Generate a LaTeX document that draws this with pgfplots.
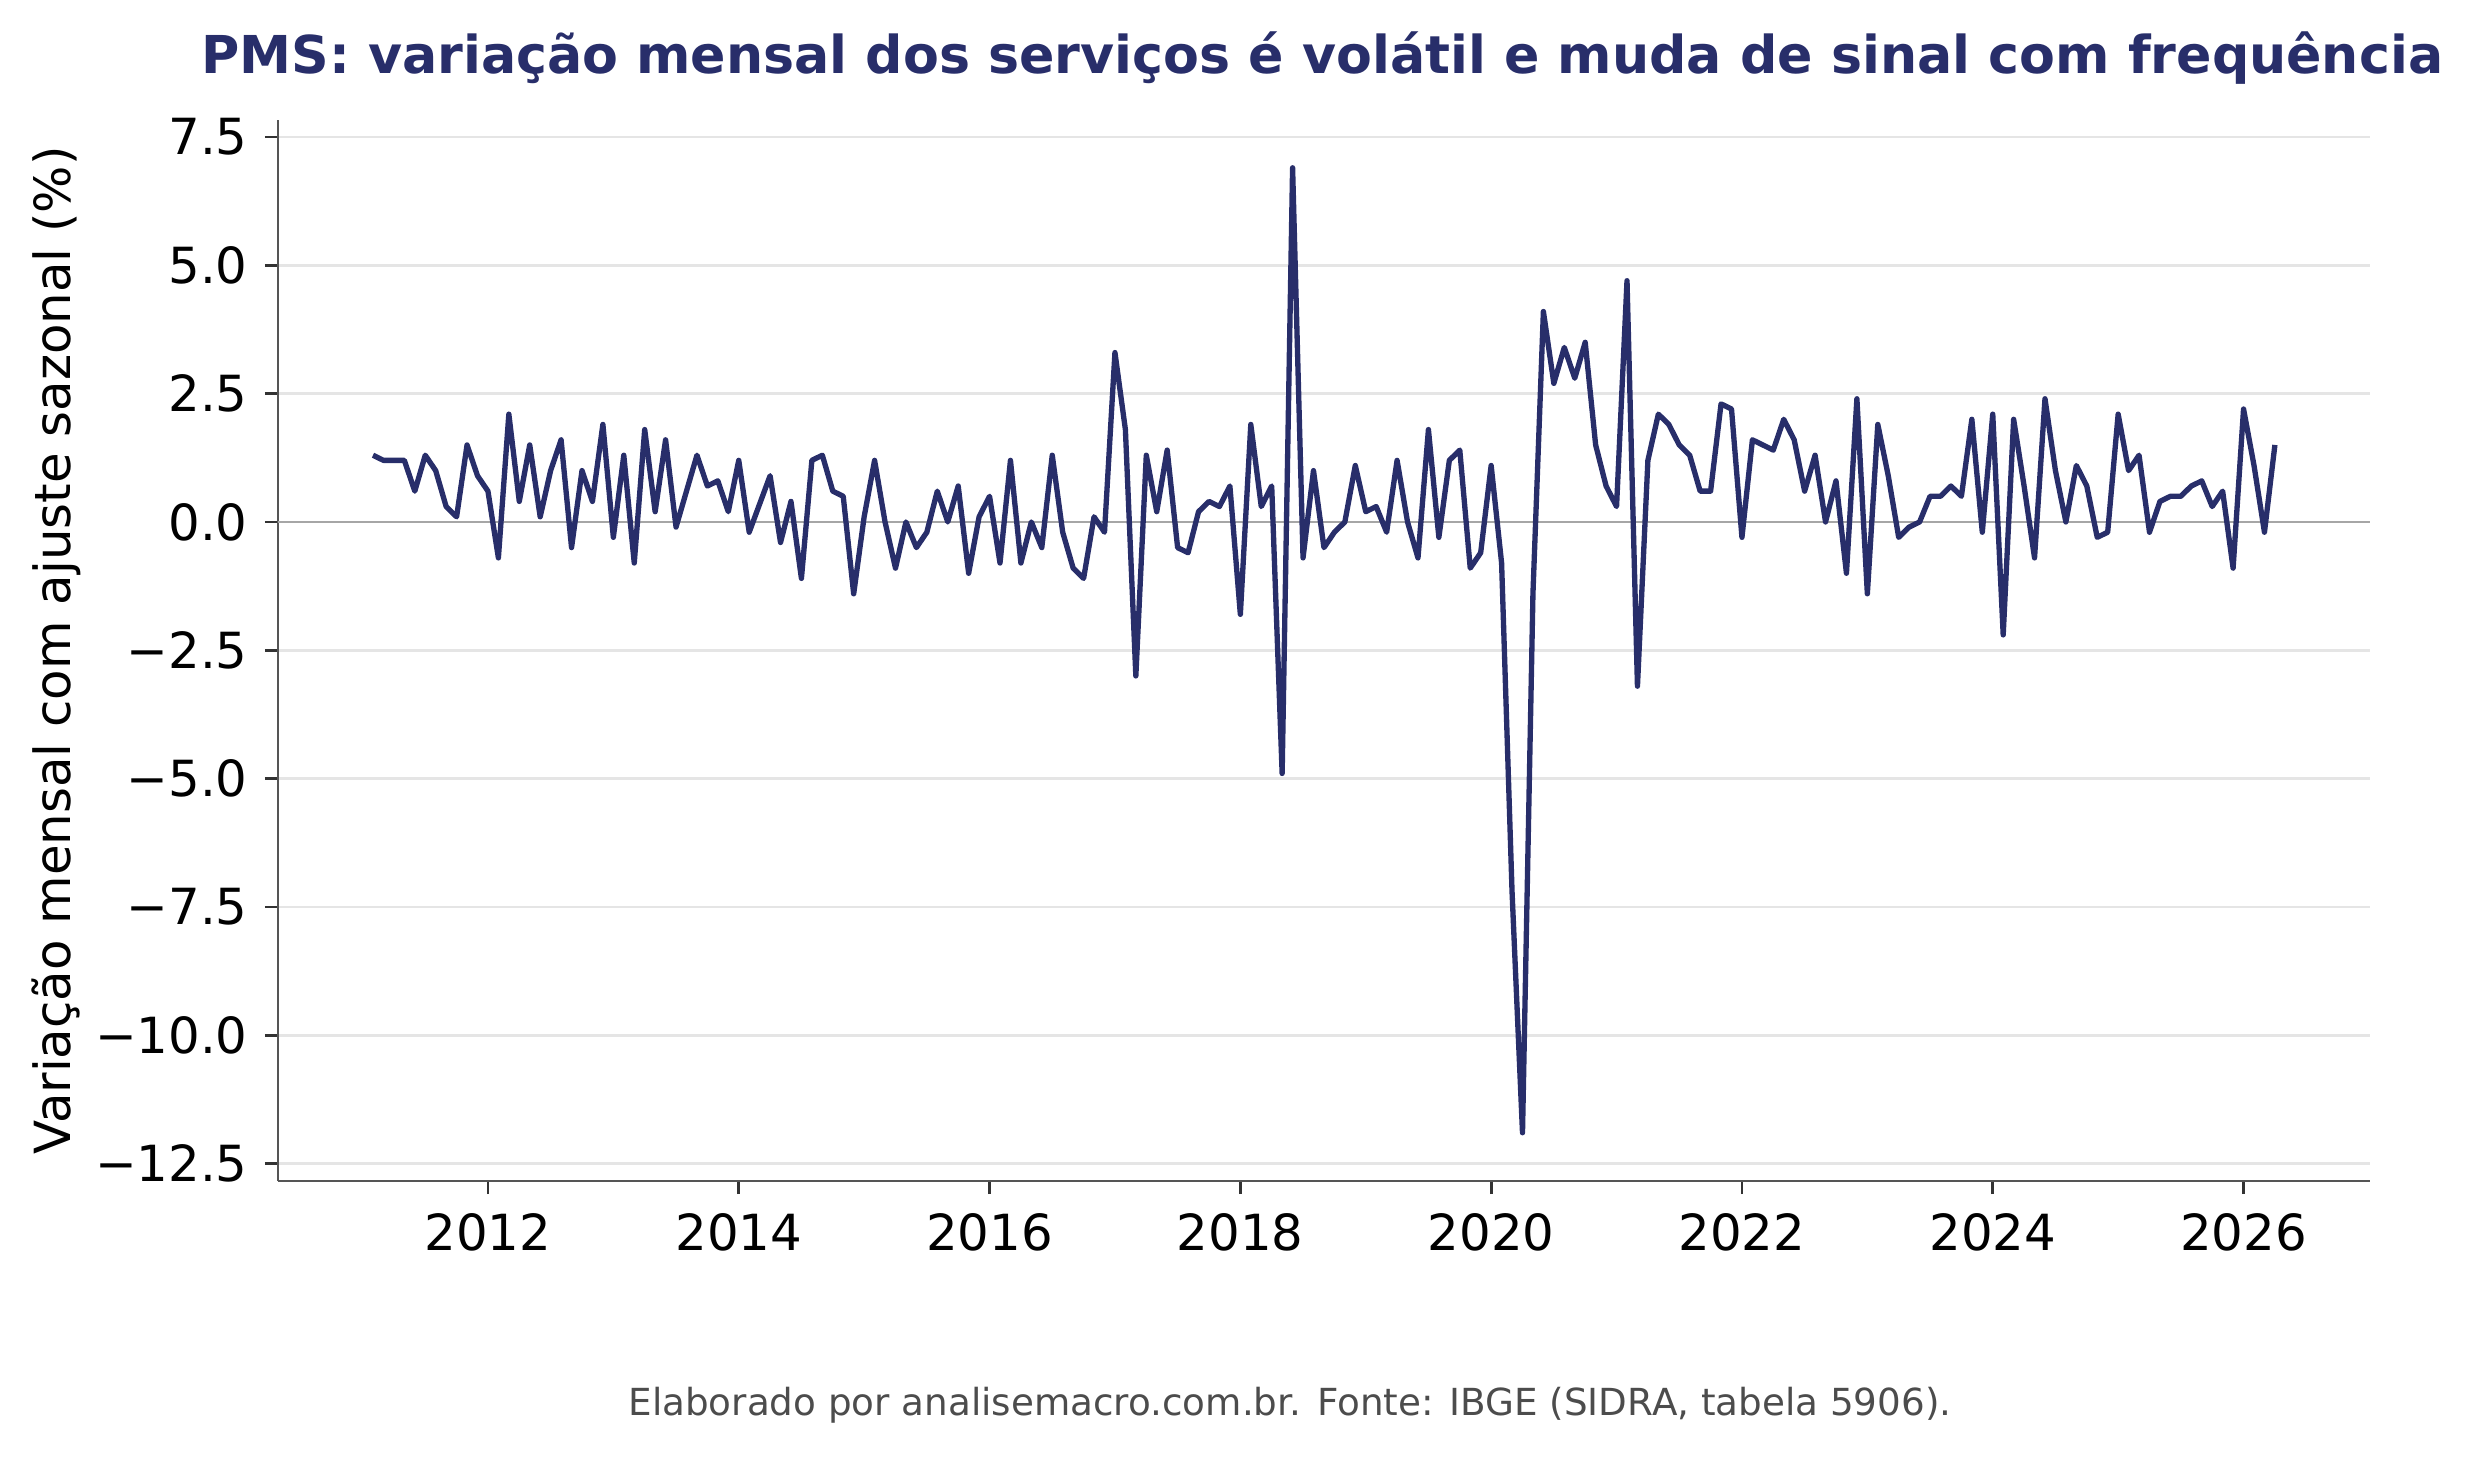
\documentclass[border=0pt]{standalone}
\usepackage{pgfplots}
\usepackage{pgfplotstable}
\pgfplotsset{compat=1.18}
\usepackage{fontspec}
\setmainfont{DejaVu Sans}
\definecolor{navy}{RGB}{40,46,106}
\definecolor{spine}{RGB}{85,85,85}

\pgfplotstableread{
y m v
2011 2 1.3
2011 3 1.2
2011 4 1.2
2011 5 1.2
2011 6 0.6
2011 7 1.3
2011 8 1.0
2011 9 0.3
2011 10 0.1
2011 11 1.5
2011 12 0.9
2012 1 0.6
2012 2 -0.7
2012 3 2.1
2012 4 0.4
2012 5 1.5
2012 6 0.1
2012 7 1.0
2012 8 1.6
2012 9 -0.5
2012 10 1.0
2012 11 0.4
2012 12 1.9
2013 1 -0.3
2013 2 1.3
2013 3 -0.8
2013 4 1.8
2013 5 0.2
2013 6 1.6
2013 7 -0.1
2013 8 0.6
2013 9 1.3
2013 10 0.7
2013 11 0.8
2013 12 0.2
2014 1 1.2
2014 2 -0.2
2014 3 0.35
2014 4 0.9
2014 5 -0.4
2014 6 0.4
2014 7 -1.1
2014 8 1.2
2014 9 1.3
2014 10 0.6
2014 11 0.5
2014 12 -1.4
2015 1 0.1
2015 2 1.2
2015 3 0.0
2015 4 -0.9
2015 5 0.0
2015 6 -0.5
2015 7 -0.2
2015 8 0.6
2015 9 0.0
2015 10 0.7
2015 11 -1.0
2015 12 0.1
2016 1 0.5
2016 2 -0.8
2016 3 1.2
2016 4 -0.8
2016 5 0.0
2016 6 -0.5
2016 7 1.3
2016 8 -0.2
2016 9 -0.9
2016 10 -1.1
2016 11 0.1
2016 12 -0.2
2017 1 3.3
2017 2 1.8
2017 3 -3.0
2017 4 1.3
2017 5 0.2
2017 6 1.4
2017 7 -0.5
2017 8 -0.6
2017 9 0.2
2017 10 0.4
2017 11 0.3
2017 12 0.7
2018 1 -1.8
2018 2 1.9
2018 3 0.3
2018 4 0.7
2018 5 -4.9
2018 6 6.9
2018 7 -0.7
2018 8 1.0
2018 9 -0.5
2018 10 -0.2
2018 11 0.0
2018 12 1.1
2019 1 0.2
2019 2 0.3
2019 3 -0.2
2019 4 1.2
2019 5 0.0
2019 6 -0.7
2019 7 1.8
2019 8 -0.3
2019 9 1.2
2019 10 1.4
2019 11 -0.9
2019 12 -0.6
2020 1 1.1
2020 2 -0.8
2020 3 -7.2
2020 4 -11.9
2020 5 -1.4
2020 6 4.1
2020 7 2.7
2020 8 3.4
2020 9 2.8
2020 10 3.5
2020 11 1.5
2020 12 0.7
2021 1 0.3
2021 2 4.7
2021 3 -3.2
2021 4 1.2
2021 5 2.1
2021 6 1.9
2021 7 1.5
2021 8 1.3
2021 9 0.6
2021 10 0.6
2021 11 2.3
2021 12 2.2
2022 1 -0.3
2022 2 1.6
2022 3 1.5
2022 4 1.4
2022 5 2.0
2022 6 1.6
2022 7 0.6
2022 8 1.3
2022 9 0.0
2022 10 0.8
2022 11 -1.0
2022 12 2.4
2023 1 -1.4
2023 2 1.9
2023 3 0.9
2023 4 -0.3
2023 5 -0.1
2023 6 0.0
2023 7 0.5
2023 8 0.5
2023 9 0.7
2023 10 0.5
2023 11 2.0
2023 12 -0.2
2024 1 2.1
2024 2 -2.2
2024 3 2.0
2024 4 0.7
2024 5 -0.7
2024 6 2.4
2024 7 1.0
2024 8 0.0
2024 9 1.1
2024 10 0.7
2024 11 -0.3
2024 12 -0.2
2025 1 2.1
2025 2 1.0
2025 3 1.3
2025 4 -0.2
2025 5 0.4
2025 6 0.5
2025 7 0.5
2025 8 0.7
2025 9 0.8
2025 10 0.3
2025 11 0.6
2025 12 -0.9
2026 1 2.2
2026 2 1.1
2026 3 -0.2
2026 4 1.5
}\pms

\begin{document}
\begin{tikzpicture}
\begin{axis}[
  at={(0,0)}, anchor=south west,
  scale only axis,
  width=609bp, height=309bp,
  xmin=2010.325, xmax=2027.008,
  ymin=-12.84, ymax=7.84,
  axis x line*=bottom, axis y line*=left,
  axis line style={spine, line width=0.8bp, -},
  xtick={2012,2014,...,2026},
  xticklabels={2012,2014,2016,2018,2020,2022,2024,2026},
  ytick={-12.5,-10,-7.5,-5,-2.5,0,2.5,5,7.5},
  yticklabels={−12.5,−10.0,−7.5,−5.0,−2.5,0.0,2.5,5.0,7.5},
  tick align=outside,
  major tick length=3.8bp,
  minor tick num=0,
  tick style={color=black!80, line width=0.8bp},
  ticklabel style={font=\fontsize{14.5bp}{17bp}\selectfont, text=black},
  xticklabel style={yshift=-2bp},
  yticklabel style={xshift=-1.5bp},
  ymajorgrids,
  grid style={color=black!10, line width=0.8bp},
  clip=true,
]
\addplot[black!35, line width=0.8bp, forget plot] coordinates {(2010.325,0) (2027.008,0)};
\addplot[navy, line width=1.55bp, line join=round, no marks]
  table[x expr=\thisrow{y}+(\thisrow{m}-1)/12, y=v]{\pms};
\end{axis}
\node[anchor=base, text=navy, font=\bfseries\fontsize{15.2bp}{18bp}\selectfont] at (304bp,322.5bp)
  {PMS: variação mensal dos serviços é volátil e muda de sinal com frequência};
\node[rotate=90, anchor=center, font=\fontsize{14.5bp}{17bp}\selectfont] at (-64.5bp,154.5bp)
  {Variação mensal com ajuste sazonal (\%)};
\node[anchor=center, text=black!70, font=\fontsize{10.85bp}{13bp}\selectfont] at (294.6bp,-65.2bp)
  {Elaborado por analisemacro.com.br. Fonte: IBGE (SIDRA, tabela 5906).};
\pgfresetboundingbox
\useasboundingbox (-80.9bp,-80.1bp) rectangle (639bp,343.8bp);
\end{tikzpicture}
\end{document}
